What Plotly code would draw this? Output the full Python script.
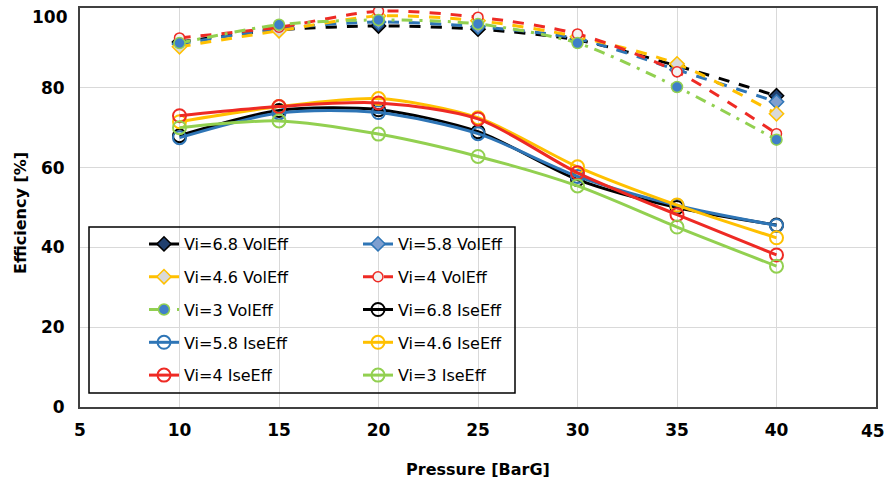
import plotly.graph_objects as go

pressure = [10, 15, 20, 25, 30, 35, 40]

x_ticks = [5, 10, 15, 20, 25, 30, 35, 40, 45]
y_ticks = [0, 20, 40, 60, 80, 100]

vol_68 = [91.5, 94.5, 95.5, 94.7, 92.0, 85.5, 78.0]
vol_58 = [91.0, 94.8, 96.5, 95.3, 92.3, 84.5, 76.5]
vol_46 = [90.3, 94.3, 98.0, 96.8, 92.8, 86.0, 73.5]
vol_40 = [92.5, 95.2, 99.2, 97.7, 93.5, 84.0, 68.5]
vol_30 = [91.2, 95.8, 97.0, 96.0, 91.2, 80.2, 67.0]

ise_68 = [68.0, 74.3, 74.5, 69.0, 57.0, 50.0, 45.6]
ise_58 = [67.5, 73.7, 73.8, 68.5, 57.8, 50.5, 45.5]
ise_46 = [71.5, 75.3, 77.3, 72.5, 60.2, 50.6, 42.4]
ise_40 = [73.0, 75.3, 76.2, 72.2, 58.7, 48.2, 38.1]
ise_30 = [70.0, 71.7, 68.4, 62.8, 55.4, 45.1, 35.3]

BLACK = "#000000"
BLUE = "#2e75b6"
ORANGE = "#ffc000"
RED = "#ee2a24"
GREEN = "#92d050"
DASH = "11px,10px"
DASHDOT = "11px,7px,3px,7px"

FONT = "DejaVu Sans"

fig = go.Figure()

vol_series = [
    ("Vi=6.8 VolEff", vol_68, BLACK, DASH, dict(symbol="diamond", size=11, color="#1f3f6e", line=dict(color=BLACK, width=1.5)), "legend"),
    ("Vi=5.8 VolEff", vol_58, BLUE, DASH, dict(symbol="diamond", size=11, color="#7f9fcf", line=dict(color=BLUE, width=1.5)), "legend2"),
    ("Vi=4.6 VolEff", vol_46, ORANGE, DASH, dict(symbol="diamond", size=11, color="#d9d9d9", line=dict(color=ORANGE, width=1.5)), "legend"),
    ("Vi=4 VolEff", vol_40, RED, DASH, dict(symbol="circle", size=10, color="#f2f2f2", line=dict(color=RED, width=1.5)), "legend2"),
    ("Vi=3 VolEff", vol_30, GREEN, DASHDOT, dict(symbol="circle", size=11, color="#3f7fc8", line=dict(color=GREEN, width=1.5)), "legend"),
]
ise_series = [
    ("Vi=6.8 IseEff", ise_68, BLACK, "legend2"),
    ("Vi=5.8 IseEff", ise_58, BLUE, "legend"),
    ("Vi=4.6 IseEff", ise_46, ORANGE, "legend2"),
    ("Vi=4 IseEff", ise_40, RED, "legend"),
    ("Vi=3 IseEff", ise_30, GREEN, "legend2"),
]

for name, vals, col, dash, marker, lg in vol_series:
    fig.add_trace(go.Scatter(
        x=pressure, y=vals, name=name, mode="lines+markers",
        line=dict(color=col, width=3, dash=dash, shape="spline", smoothing=0.8),
        marker=marker, legend=lg, legendgroup=name,
    ))

for name, vals, col, lg in ise_series:
    fig.add_trace(go.Scatter(
        x=pressure, y=vals, name=name, mode="lines+markers",
        line=dict(color=col, width=3, shape="spline", smoothing=0.8),
        marker=dict(symbol="circle-open", size=13, color=col, line=dict(width=2)),
        legend=lg, legendgroup=name,
    ))

plot_l, plot_r, plot_t, plot_b = 80, 876, 8, 407
W, H = 884, 480
pw, ph = plot_r - plot_l, plot_b - plot_t

def px_x(x):
    return (x - plot_l) / pw

def px_y(y):
    return (plot_b - y) / ph

legend_common = dict(
    font=dict(family=FONT, size=16, color="#000000"),
    bgcolor="rgba(0,0,0,0)", borderwidth=0,
    orientation="v", xanchor="left", yanchor="top",
    tracegroupgap=9, traceorder="grouped",
)

tick_font = dict(family=FONT, size=17, weight="bold", color="#000000")
title_font = dict(family=FONT, size=16, weight="bold", color="#000000")

annotations = [
    # edge tick labels (top of y axis, right end of x axis) kept inside the page
    dict(text=str(y_ticks[-1]), xref="paper", yref="paper", x=0, y=px_y(17),
         xanchor="right", yanchor="middle", xshift=-10, showarrow=False, font=tick_font),
    dict(text=str(x_ticks[-1]), xref="paper", yref="paper", x=px_x(873), y=0,
         xanchor="center", yanchor="top", yshift=-12, showarrow=False, font=tick_font),
    # y axis title
    dict(text="Efficiency [%]", xref="paper", yref="paper", x=px_x(20), y=px_y(213),
         xanchor="center", yanchor="middle", textangle=-90, showarrow=False, font=title_font),
]

fig.update_layout(
    width=W, height=H,
    margin=dict(l=plot_l, r=W - plot_r, t=plot_t, b=H - plot_b, autoexpand=False),
    paper_bgcolor="white", plot_bgcolor="white",
    font=dict(family=FONT, color="#000000"),
    showlegend=True,
    legend=dict(x=px_x(144), y=px_y(227), **legend_common),
    legend2=dict(x=px_x(358), y=px_y(227), **legend_common),
    shapes=[dict(
        type="rect", xref="paper", yref="paper",
        x0=px_x(89), x1=px_x(515), y0=px_y(393), y1=px_y(227),
        line=dict(color="#000000", width=1.5), fillcolor="rgba(0,0,0,0)",
    )],
    annotations=annotations,
)

fig.update_xaxes(
    range=[5, 45], tickvals=x_ticks, ticktext=[str(v) for v in x_ticks[:-1]] + [""],
    automargin=False,
    showgrid=True, gridcolor="#d9d9d9", gridwidth=1,
    showline=True, linecolor="#404040", linewidth=2, mirror=True,
    ticks="", ticklabelstandoff=7, ticklabeloverflow="allow",
    tickfont=tick_font,
    title=dict(text="Pressure [BarG]", font=title_font, standoff=24),
    zeroline=False,
)
fig.update_yaxes(
    range=[0, 100], tickvals=y_ticks, ticktext=[str(v) for v in y_ticks[:-1]] + [""],
    automargin=False,
    showgrid=True, gridcolor="#d9d9d9", gridwidth=1,
    showline=True, linecolor="#404040", linewidth=2, mirror=True,
    ticks="", ticklabelstandoff=10, ticklabeloverflow="allow",
    tickfont=tick_font,
    zeroline=False,
)

fig.write_html("out.html")
